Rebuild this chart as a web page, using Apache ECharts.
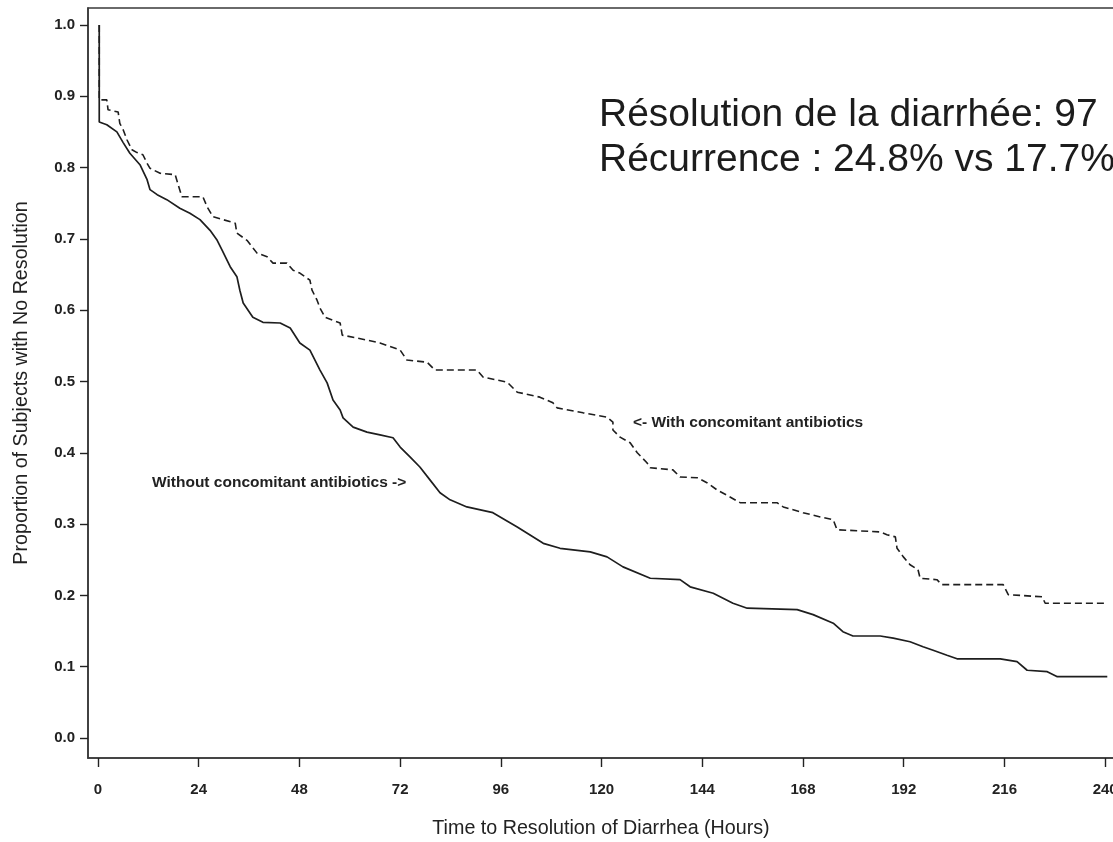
<!DOCTYPE html>
<html>
<head>
<meta charset="utf-8">
<script src="https://cdn.jsdelivr.net/npm/echarts@6/dist/echarts.min.js"></script>
<style>
  html, body { margin: 0; padding: 0; background: #ffffff; }
  #chart { width: 1113px; height: 842px; }
</style>
</head>
<body>
<div id="chart"></div>
<script>
// Kaplan-Meier style curves: proportion of subjects still without resolution over time (hours)

// Without concomitant antibiotics (solid line)
const withoutHours = [0.3, 0.3, 2.1, 4.5, 6.0, 7.6, 10.0, 11.7, 12.4, 14.1, 16.4, 19.5, 21.9, 24.3, 26.7, 28.4, 29.6, 31.5, 33.1, 33.8,
  34.6, 36.9, 39.3, 43.4, 45.8, 48.1, 50.5, 52.9, 54.6, 56.0, 57.7, 58.4, 60.8, 64.1, 67.2, 70.3, 72.0, 74.4, 76.7, 79.1,
  81.5, 83.9, 87.9, 94.1, 99.9, 106.1, 110.1, 117.3, 121.3, 125.1, 131.6, 138.7, 141.1, 146.6, 151.3, 154.7, 166.6, 170.4, 175.2, 177.5,
  179.9, 186.4, 189.5, 193.5, 196.6, 199.0, 202.3, 204.7, 215.0, 219.0, 221.4, 226.2, 228.6, 240.5];
const withoutProp = [1.0, 0.864, 0.860, 0.850, 0.835, 0.820, 0.804, 0.783, 0.769, 0.762, 0.755, 0.743, 0.736, 0.727, 0.712, 0.698, 0.684, 0.661, 0.647, 0.628,
  0.610, 0.590, 0.583, 0.582, 0.575, 0.554, 0.544, 0.516, 0.498, 0.474, 0.460, 0.449, 0.436, 0.429, 0.425, 0.421, 0.408, 0.394, 0.380, 0.362,
  0.344, 0.334, 0.324, 0.316, 0.296, 0.273, 0.266, 0.261, 0.254, 0.240, 0.224, 0.222, 0.212, 0.203, 0.189, 0.182, 0.180, 0.173, 0.161, 0.149,
  0.143, 0.143, 0.140, 0.135, 0.128, 0.123, 0.116, 0.111, 0.111, 0.107, 0.095, 0.093, 0.086, 0.086];

// With concomitant antibiotics (dashed line)
const withHours = [0.3, 0.3, 2.1, 2.4, 4.8, 5.2, 6.0, 6.9, 8.1, 9.3, 10.7, 11.7, 12.4, 14.8, 18.4, 19.1, 20.0, 25.0, 26.0, 27.4,
  29.8, 32.7, 33.1, 35.5, 37.9, 40.3, 41.7, 45.0, 46.5, 48.1, 50.5, 51.0, 52.2, 52.9, 54.1, 57.7, 58.2, 61.7, 67.2, 72.0,
  73.6, 78.4, 80.3, 90.3, 91.8, 97.5, 99.9, 105.3, 108.4, 109.4, 115.6, 121.3, 122.7, 122.7, 124.4, 126.8, 128.5, 130.8, 131.6, 137.0,
  138.7, 142.8, 145.1, 147.5, 150.6, 153.0, 161.8, 163.3, 168.0, 172.1, 175.2, 176.1, 186.4, 188.0, 190.0, 190.4, 191.9, 193.5, 195.4, 195.9,
  199.9, 201.1, 215.7, 216.9, 225.0, 225.7, 240.5];
const withProp = [1.0, 0.895, 0.895, 0.881, 0.878, 0.862, 0.853, 0.839, 0.825, 0.821, 0.818, 0.806, 0.799, 0.792, 0.790, 0.776, 0.759, 0.759, 0.745, 0.731,
  0.727, 0.722, 0.708, 0.698, 0.680, 0.675, 0.666, 0.666, 0.656, 0.652, 0.642, 0.628, 0.614, 0.603, 0.590, 0.582, 0.565, 0.561, 0.554, 0.544,
  0.530, 0.527, 0.516, 0.516, 0.506, 0.499, 0.485, 0.478, 0.470, 0.463, 0.456, 0.450, 0.443, 0.432, 0.422, 0.414, 0.400, 0.386, 0.379, 0.376,
  0.366, 0.365, 0.358, 0.348, 0.338, 0.330, 0.330, 0.324, 0.316, 0.310, 0.306, 0.292, 0.289, 0.285, 0.282, 0.266, 0.254, 0.243, 0.236, 0.224,
  0.222, 0.215, 0.215, 0.201, 0.198, 0.189, 0.189];

// Axis ticks
const xTicks = [0, 24, 48, 72, 96, 120, 144, 168, 192, 216, 240];
const yTicks = [0, 0.1, 0.2, 0.3, 0.4, 0.5, 0.6, 0.7, 0.8, 0.9, 1.0];

// Texts
const xTitle = 'Time to Resolution of Diarrhea (Hours)';
const yTitle = 'Proportion of Subjects with No Resolution';
const labelWithout = 'Without concomitant antibiotics ->';
const labelWith = '<- With concomitant antibiotics';
const headline = ['Résolution de la diarrhée: 97', 'Récurrence : 24.8% vs 17.7%'];

const zip = (xs, ys) => xs.map((x, i) => [x, ys[i]]);

const tickFont = { fontFamily: 'Liberation Sans', fontWeight: 'bold', fontSize: 15, color: '#222' };
const frameColor = '#3a3a3a';

const chart = echarts.init(document.getElementById('chart'), null, { renderer: 'canvas' });

chart.setOption({
  animation: false,
  backgroundColor: '#ffffff',
  grid: {
    left: 88, top: 8, width: 1026, height: 750,
    containLabel: false,
    outerBoundsMode: 'none',
    show: true, borderColor: frameColor, borderWidth: 1.6, backgroundColor: 'transparent'
  },
  xAxis: {
    type: 'value',
    min: -2.38, max: 242.1,
    axisLine: { show: true, onZero: false, lineStyle: { color: frameColor, width: 1.6 } },
    axisTick: { show: true, customValues: xTicks, length: 9, lineStyle: { color: '#222', width: 1.4 } },
    axisLabel: { customValues: xTicks, margin: 24, ...tickFont, formatter: v => String(Math.round(v)) },
    splitLine: { show: false },
    name: xTitle,
    nameLocation: 'middle',
    nameGap: 61,
    nameTextStyle: { fontFamily: 'Liberation Sans', fontSize: 19.7, color: '#222' }
  },
  yAxis: {
    type: 'value',
    min: -0.0281, max: 1.0238,
    axisLine: { show: true, onZero: false, lineStyle: { color: frameColor, width: 1.6 } },
    axisTick: { show: true, customValues: yTicks, length: 8, lineStyle: { color: '#222', width: 1.4 } },
    axisLabel: { customValues: yTicks, margin: 13, ...tickFont, formatter: v => v.toFixed(1) },
    splitLine: { show: false },
    name: yTitle,
    nameLocation: 'middle',
    nameGap: 56,
    nameRotate: 90,
    nameTextStyle: { fontFamily: 'Liberation Sans', fontSize: 19.7, color: '#222' }
  },
  series: [
    {
      name: 'With concomitant antibiotics',
      type: 'line',
      data: zip(withHours, withProp),
      showSymbol: false,
      symbol: 'none',
      lineStyle: { color: '#1e1e1e', width: 1.6, type: [7, 4] },
      z: 2
    },
    {
      name: 'Without concomitant antibiotics',
      type: 'line',
      data: zip(withoutHours, withoutProp),
      showSymbol: false,
      symbol: 'none',
      lineStyle: { color: '#1e1e1e', width: 1.7, type: 'solid' },
      z: 3
    }
  ],
  graphic: [
    {
      type: 'text', left: 152, top: 475,
      style: { text: labelWithout, font: 'bold 15.5px "Liberation Sans"', fill: '#222' }
    },
    {
      type: 'text', left: 633, top: 415,
      style: { text: labelWith, font: 'bold 15.5px "Liberation Sans"', fill: '#222' }
    },
    {
      type: 'text', x: 599, y: 96,
      style: { text: headline[0], font: '39px "Liberation Sans"', fill: '#1c1c1c' }
    },
    {
      type: 'text', x: 599, y: 141,
      style: { text: headline[1], font: '39px "Liberation Sans"', fill: '#1c1c1c' }
    }
  ]
});
</script>
</body>
</html>
